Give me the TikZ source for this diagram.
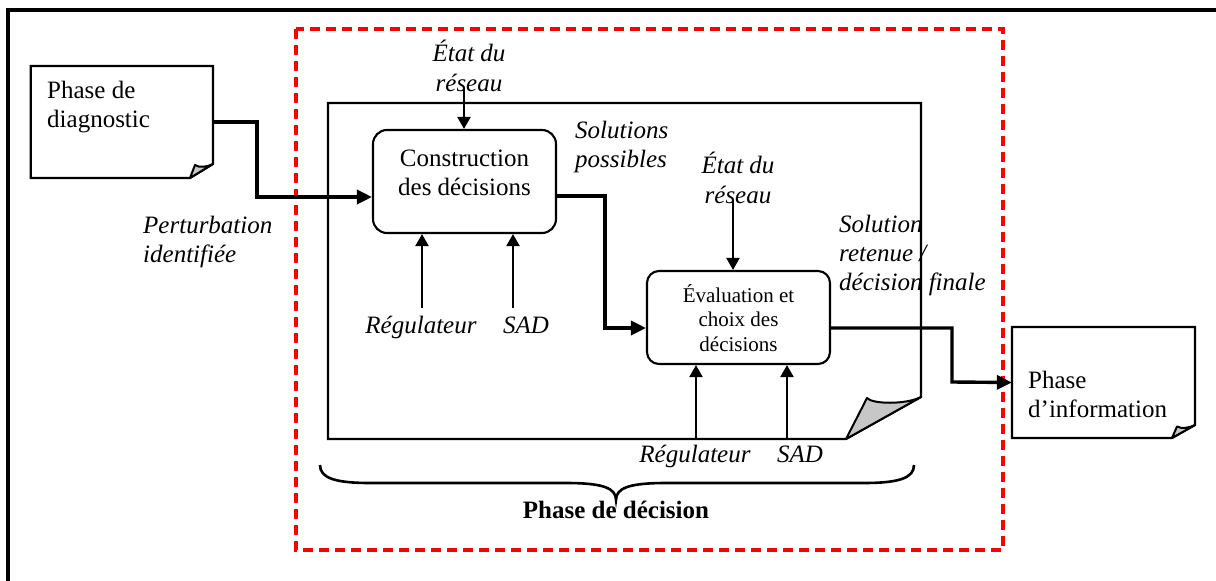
\documentclass[tikz,border=0pt]{standalone}
\usepackage{fontspec}
\setmainfont{Liberation Serif}
\usetikzlibrary{arrows.meta}
\begin{document}
\begin{tikzpicture}[x=1pt,y=-1pt,
  wire/.style={line width=2.1pt,-{Triangle[length=12pt,width=13pt]}},
  heavy/.style={line width=3.4pt,-{Triangle[length=15pt,width=14pt]}},
  box/.style={draw,line width=2.1pt,rounded corners=14pt,inner sep=0pt},
  doc/.style={draw,line width=2.1pt,fill=white,line join=miter},
  fold/.style={draw,line width=2pt,fill=black!22,line join=round},
  area/.style={inner sep=0pt,draw=none},
  lbl/.style={inner sep=0pt,align=left,font=\fontsize{25}{29}\selectfont},
  clbl/.style={inner sep=0pt,align=center,font=\fontsize{25}{28.5}\selectfont},
  ilbl/.style={inner sep=0pt,align=left,font=\fontsize{25}{29}\selectfont\itshape},
  iclbl/.style={inner sep=0pt,align=center,font=\fontsize{25}{29.5}\selectfont\itshape},
  slbl/.style={inner sep=0pt,align=center,font=\fontsize{21}{24.5}\selectfont},
]
\useasboundingbox (0,0) rectangle (1216,581);
\clip (0,0) rectangle (1216,581);

% outer frame (runs past the page on the right and bottom)
\draw[line width=3.3pt] (8,600) -- (8,10) -- (1240,10);

% decision phase boundary
\draw[red,line width=3.2pt,dash pattern=on 10pt off 6pt] (296,29) rectangle (1003,550);

% diagnostic document
\draw[doc] (30.7,66) -- (213,66) -- (213,164) -- (190,178) -- (30.7,178) -- cycle;
\draw[fold] (190,178) -- (195,165) .. controls (199,168) and (207,167) .. (213,164) -- cycle;
\node[area,minimum width=182.3pt,minimum height=112pt] (diag) at (121.85,122) {};

% decision phase document
\draw[doc] (328,103) -- (921,103) -- (921,397) -- (846,439) -- (328,439) -- cycle;
\draw[fold] (846,439) -- (867,398) .. controls (872,404) and (905,405) .. (921,397) -- cycle;

% information document
\draw[doc] (1012,327) -- (1195,327) -- (1195,425) -- (1172,438) -- (1012,438) -- cycle;
\draw[fold] (1172,438) -- (1177,426.5) .. controls (1181,429) and (1189,428) .. (1195,425) -- cycle;
\node[area,minimum width=183pt,minimum height=111pt] (info) at (1103.5,382.5) {};

% activity boxes
\node[box,minimum width=183pt,minimum height=103pt] (constr) at (464.5,181.5) {};
\node[box,minimum width=183pt,minimum height=93pt,rounded corners=12pt] (eval) at (738.5,317.5) {};

% box texts (anchored on the baseline of their last line)
\node[clbl,anchor=base] (constrtxt) at (464.5,195) {Construction\\des décisions};
\node[slbl,anchor=base] (evaltxt) at (738.5,351) {Évaluation et\\choix des\\décisions};

% document texts
\node[lbl,anchor=base west] (diagtxt) at (47,127.5) {Phase de\\diagnostic};
\node[lbl,anchor=base west] (infotxt) at (1028,417) {Phase\\d’information};

% flow labels
\node[ilbl,anchor=base west] (perturb) at (143,262) {Perturbation\\identifiée};
\node[iclbl,anchor=base] (etatA) at (469,91) {État du\\réseau};
\node[ilbl,anchor=base west] (solposs) at (575,167) {Solutions\\possibles};
\node[iclbl,anchor=base] (etatB) at (738,203) {État du\\réseau};
\node[ilbl,anchor=base west] (solret) at (839,290) {Solution\\retenue /\\décision finale};
\node[iclbl,anchor=base] (regA) at (421,333) {Régulateur};
\node[iclbl,anchor=base] (sadA) at (526,333) {SAD};
\node[iclbl,anchor=base] (regB) at (695,462) {Régulateur};
\node[iclbl,anchor=base] (sadB) at (800,462) {SAD};

% control inputs
\coordinate (etatAin) at (464,88);
\coordinate (etatBin) at (733,200);
\coordinate (regAin) at (422,308);
\coordinate (sadAin) at (513,308);
\coordinate (regBin) at (696,439);
\coordinate (sadBin) at (787,439);
\draw[wire] (etatAin) -- (etatAin |- constr.north);
\draw[wire] (regAin) -- (regAin |- constr.south);
\draw[wire] (sadAin) -- (sadAin |- constr.south);
\draw[wire] (etatBin) -- (etatBin |- eval.north);
\draw[wire] (regBin) -- (regBin |- eval.south);
\draw[wire] (sadBin) -- (sadBin |- eval.south);

% main flow
\draw[heavy] (diag.east) -- (257,122) -- (257,197) -- ([yshift=-15.5pt]constr.west);
\draw[heavy] ([yshift=-14.5pt]constr.east) -- (605,196) -- (605,328) -- ([yshift=-10.5pt]eval.west);
\draw[heavy] ([yshift=-10.5pt]eval.east) -- (952,328) -- (952,382) -- (info.west);

% brace under the decision phase
\draw[line width=2.6pt] (320,465) .. controls (320,478) and (335,483) .. (370,483)
  -- (566,483) .. controls (603,483) and (616,488) .. (616,500)
  .. controls (616,488) and (629,483) .. (666,483)
  -- (864,483) .. controls (899,483) and (914,478) .. (914,465);
\node[inner sep=0pt,font=\fontsize{25}{29}\selectfont\bfseries,anchor=base] (phasedec) at (616,518) {Phase de décision};
\end{tikzpicture}
\end{document}
